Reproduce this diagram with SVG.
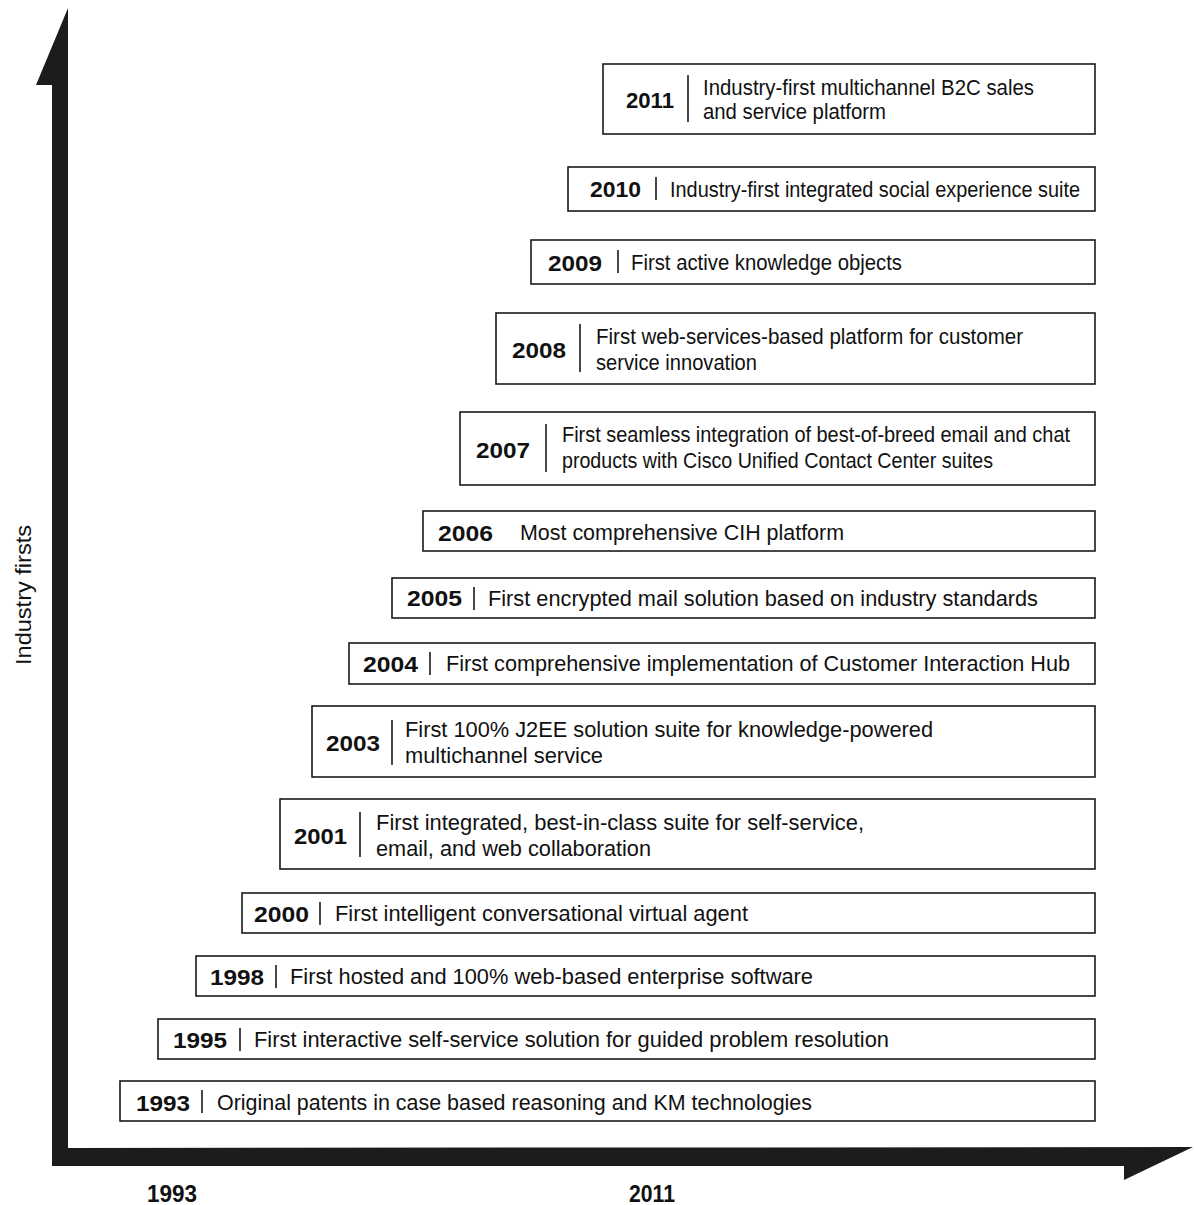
<svg xmlns="http://www.w3.org/2000/svg" width="1194" height="1205" viewBox="0 0 1194 1205">
<style>
.box{fill:#fff;stroke:#1a1a1a;stroke-width:1.6}
.div{stroke:#1a1a1a;stroke-width:1.6}
.yr{font-family:"Liberation Sans",Arial,sans-serif;font-size:22px;font-weight:bold;fill:#111}
.tx{font-family:"Liberation Sans",Arial,sans-serif;font-size:22px;fill:#111}
.ax{font-family:"Liberation Sans",Arial,sans-serif;font-size:22px;fill:#111}
.axb{font-family:"Liberation Sans",Arial,sans-serif;font-size:24px;font-weight:bold;fill:#111}
</style>
<rect width="1194" height="1205" fill="#fff"/>
<g id="axes">
<polygon points="68,8 68,1148 1193,1147 1124,1180 1124,1166 52,1166 52,85 36,85" fill="#1c1c1c"/>
</g>
<g id="axis-labels">
<text class="axb" x="147" y="1202" textLength="50" lengthAdjust="spacingAndGlyphs">1993</text>
<text class="axb" x="629" y="1202" textLength="46" lengthAdjust="spacingAndGlyphs">2011</text>
<text class="ax" transform="translate(31,665) rotate(-90)" textLength="140" lengthAdjust="spacingAndGlyphs">Industry firsts</text>
</g>
<g id="connectors"></g>
<g id="n2011">
<rect class="box" x="603" y="64" width="492" height="70"/>
<text class="yr" x="626" y="108" textLength="48" lengthAdjust="spacingAndGlyphs">2011</text>
<line class="div" x1="688" y1="75" x2="688" y2="122"/>
<text class="tx" x="703" y="95" textLength="331" lengthAdjust="spacingAndGlyphs">Industry-first multichannel B2C sales</text>
<text class="tx" x="703" y="119" textLength="183" lengthAdjust="spacingAndGlyphs">and service platform</text>
</g>
<g id="n2010">
<rect class="box" x="568" y="167" width="527" height="44"/>
<text class="yr" x="590" y="197" textLength="51" lengthAdjust="spacingAndGlyphs">2010</text>
<line class="div" x1="656" y1="177" x2="656" y2="200"/>
<text class="tx" x="670" y="197" textLength="410" lengthAdjust="spacingAndGlyphs">Industry-first integrated social experience suite</text>
</g>
<g id="n2009">
<rect class="box" x="531" y="240" width="564" height="44"/>
<text class="yr" x="548" y="271" textLength="54" lengthAdjust="spacingAndGlyphs">2009</text>
<line class="div" x1="618" y1="250" x2="618" y2="273"/>
<text class="tx" x="631" y="270" textLength="271" lengthAdjust="spacingAndGlyphs">First active knowledge objects</text>
</g>
<g id="n2008">
<rect class="box" x="496" y="313" width="599" height="71"/>
<text class="yr" x="512" y="358" textLength="54" lengthAdjust="spacingAndGlyphs">2008</text>
<line class="div" x1="580" y1="324" x2="580" y2="372"/>
<text class="tx" x="596" y="344" textLength="427" lengthAdjust="spacingAndGlyphs">First web-services-based platform for customer</text>
<text class="tx" x="596" y="370" textLength="161" lengthAdjust="spacingAndGlyphs">service innovation</text>
</g>
<g id="n2007">
<rect class="box" x="460" y="412" width="635" height="73"/>
<text class="yr" x="476" y="458" textLength="54" lengthAdjust="spacingAndGlyphs">2007</text>
<line class="div" x1="546" y1="424" x2="546" y2="472"/>
<text class="tx" x="562" y="442" textLength="508" lengthAdjust="spacingAndGlyphs">First seamless integration of best-of-breed email and chat</text>
<text class="tx" x="562" y="468" textLength="431" lengthAdjust="spacingAndGlyphs">products with Cisco Unified Contact Center suites</text>
</g>
<g id="n2006">
<rect class="box" x="423" y="511" width="672" height="40"/>
<text class="yr" x="438" y="541" textLength="55" lengthAdjust="spacingAndGlyphs">2006</text>
<text class="tx" x="520" y="540" textLength="324" lengthAdjust="spacingAndGlyphs">Most comprehensive CIH platform</text>
</g>
<g id="n2005">
<rect class="box" x="392" y="578" width="703" height="40"/>
<text class="yr" x="407" y="606" textLength="55" lengthAdjust="spacingAndGlyphs">2005</text>
<line class="div" x1="474" y1="587" x2="474" y2="610"/>
<text class="tx" x="488" y="606" textLength="550" lengthAdjust="spacingAndGlyphs">First encrypted mail solution based on industry standards</text>
</g>
<g id="n2004">
<rect class="box" x="349" y="643" width="746" height="41"/>
<text class="yr" x="363" y="672" textLength="55" lengthAdjust="spacingAndGlyphs">2004</text>
<line class="div" x1="430" y1="652" x2="430" y2="675"/>
<text class="tx" x="446" y="671" textLength="624" lengthAdjust="spacingAndGlyphs">First comprehensive implementation of Customer Interaction Hub</text>
</g>
<g id="n2003">
<rect class="box" x="312" y="706" width="783" height="71"/>
<text class="yr" x="326" y="751" textLength="54" lengthAdjust="spacingAndGlyphs">2003</text>
<line class="div" x1="392" y1="720" x2="392" y2="765"/>
<text class="tx" x="405" y="737" textLength="528" lengthAdjust="spacingAndGlyphs">First 100% J2EE solution suite for knowledge-powered</text>
<text class="tx" x="405" y="763" textLength="198" lengthAdjust="spacingAndGlyphs">multichannel service</text>
</g>
<g id="n2001">
<rect class="box" x="280" y="799" width="815" height="70"/>
<text class="yr" x="294" y="844" textLength="53" lengthAdjust="spacingAndGlyphs">2001</text>
<line class="div" x1="360" y1="812" x2="360" y2="857"/>
<text class="tx" x="376" y="830" textLength="488" lengthAdjust="spacingAndGlyphs">First integrated, best-in-class suite for self-service,</text>
<text class="tx" x="376" y="856" textLength="275" lengthAdjust="spacingAndGlyphs">email, and web collaboration</text>
</g>
<g id="n2000">
<rect class="box" x="242" y="893" width="853" height="40"/>
<text class="yr" x="254" y="922" textLength="55" lengthAdjust="spacingAndGlyphs">2000</text>
<line class="div" x1="320" y1="902" x2="320" y2="925"/>
<text class="tx" x="335" y="921" textLength="413" lengthAdjust="spacingAndGlyphs">First intelligent conversational virtual agent</text>
</g>
<g id="n1998">
<rect class="box" x="196" y="956" width="899" height="40"/>
<text class="yr" x="210" y="985" textLength="54" lengthAdjust="spacingAndGlyphs">1998</text>
<line class="div" x1="276" y1="965" x2="276" y2="988"/>
<text class="tx" x="290" y="984" textLength="523" lengthAdjust="spacingAndGlyphs">First hosted and 100% web-based enterprise software</text>
</g>
<g id="n1995">
<rect class="box" x="158" y="1019" width="937" height="40"/>
<text class="yr" x="173" y="1048" textLength="54" lengthAdjust="spacingAndGlyphs">1995</text>
<line class="div" x1="240" y1="1028" x2="240" y2="1051"/>
<text class="tx" x="254" y="1047" textLength="635" lengthAdjust="spacingAndGlyphs">First interactive self-service solution for guided problem resolution</text>
</g>
<g id="n1993">
<rect class="box" x="120" y="1081" width="975" height="40"/>
<text class="yr" x="136" y="1111" textLength="54" lengthAdjust="spacingAndGlyphs">1993</text>
<line class="div" x1="202" y1="1090" x2="202" y2="1113"/>
<text class="tx" x="217" y="1110" textLength="595" lengthAdjust="spacingAndGlyphs">Original patents in case based reasoning and KM technologies</text>
</g>
</svg>
